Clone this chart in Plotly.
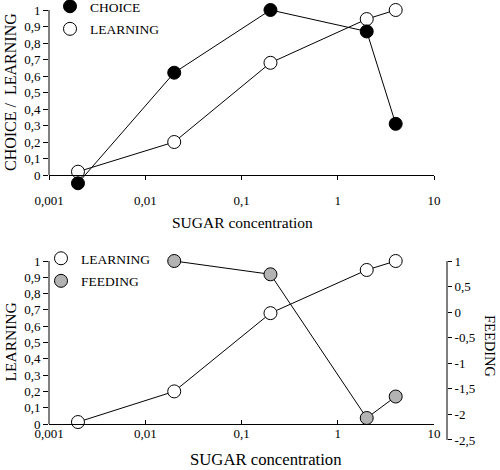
import plotly.graph_objects as go

# ---------------- data ----------------
CONC = [0.002, 0.02, 0.2, 2, 4]
CHOICE = [-0.05, 0.62, 1.0, 0.87, 0.31]
LEARNING_TOP = [0.02, 0.20, 0.68, 0.945, 1.0]
LEARNING_BOT = [0.012, 0.20, 0.68, 0.945, 1.0]
CONC_FEED = [0.02, 0.2, 2, 4]
FEEDING = [1.0, 0.74, -2.07, -1.65]

X_TICKVALS = [0.001, 0.01, 0.1, 1, 10]
X_TICKTEXT = ["0,001", "0,01", "0,1", "1", "10"]
Y_TICKVALS = [0, 0.1, 0.2, 0.3, 0.4, 0.5, 0.6, 0.7, 0.8, 0.9, 1]
Y_TICKTEXT = ["0", "0,1", "0,2", "0,3", "0,4", "0,5", "0,6", "0,7", "0,8", "0,9", "1"]
Y2_TICKVALS = [1, 0.5, 0, -0.5, -1, -1.5, -2, -2.5]
Y2_TICKTEXT = ["1", "0,5", "0", "-0,5", "-1", "-1,5", "-2", "-2,5"]

# ---------------- layout helpers (pixel -> paper) ----------------
W, H = 500, 470
FONT = "Liberation Serif, Tinos, Times New Roman, DejaVu Serif, serif"
GRAY = "#b3b3b3"


def fx(p):
    return p / W


def fy(p):
    return 1 - p / H


# top panel geometry
T_X0, T_X1 = 49, 434
T_ZERO, T_ONE = 175, 10
T_TOP, T_BOT = 4, 190
t_unit = T_ZERO - T_ONE
t_range = [(T_ZERO - T_BOT) / t_unit, (T_ZERO - T_TOP) / t_unit]

# bottom panel geometry
B_ZERO, B_ONE = 424, 261
B_TOP, B_BOT = 254, 443
b_unit = B_ZERO - B_ONE
b_range = [(B_ZERO - B_BOT) / b_unit, (B_ZERO - B_TOP) / b_unit]
R_ONE, R_UNIT = 261, 51.14
r_range = [1 - (B_BOT - R_ONE) / R_UNIT, 1 + (R_ONE - B_TOP) / R_UNIT]
R_AXIS = 447

fig = go.Figure()

line_style = dict(color="black", width=1)


def mk(fill):
    return dict(size=13, color=fill, line=dict(color="black", width=1))


# top panel
fig.add_trace(go.Scatter(x=CONC, y=LEARNING_TOP, mode="lines+markers", line=line_style,
                         marker=mk("white"), xaxis="x", yaxis="y", showlegend=False,
                         cliponaxis=False))
fig.add_trace(go.Scatter(x=CONC, y=CHOICE, mode="lines+markers", line=line_style,
                         marker=mk("black"), xaxis="x", yaxis="y", showlegend=False,
                         cliponaxis=False))
# legend entries top
fig.add_trace(go.Scatter(x=[None], y=[None], mode="markers", marker=mk("black"), name="CHOICE",
                         legend="legend", legendgroup="a", xaxis="x", yaxis="y"))
fig.add_trace(go.Scatter(x=[None], y=[None], mode="markers", marker=mk("white"), name="LEARNING",
                         legend="legend", legendgroup="b", xaxis="x", yaxis="y"))

# bottom panel
fig.add_trace(go.Scatter(x=CONC, y=LEARNING_BOT, mode="lines+markers", line=line_style,
                         marker=mk("white"), xaxis="x2", yaxis="y3", showlegend=False,
                         cliponaxis=False))
fig.add_trace(go.Scatter(x=CONC_FEED, y=FEEDING, mode="lines+markers", line=line_style,
                         marker=mk(GRAY), xaxis="x2", yaxis="y4", showlegend=False,
                         cliponaxis=False))
fig.add_trace(go.Scatter(x=[None], y=[None], mode="markers", marker=mk("white"), name="LEARNING",
                         legend="legend2", legendgroup="c", xaxis="x2", yaxis="y3"))
fig.add_trace(go.Scatter(x=[None], y=[None], mode="markers", marker=mk(GRAY), name="FEEDING",
                         legend="legend2", legendgroup="d", xaxis="x2", yaxis="y3"))

tickfont = dict(family=FONT, size=13, color="black")

common_x = dict(type="log", range=[-3, 1], domain=[fx(T_X0), fx(T_X1)], tickvals=X_TICKVALS,
                ticktext=X_TICKTEXT, showgrid=False, zeroline=False, showline=True,
                linecolor="black", linewidth=1, tickcolor="black", ticklen=4, tickwidth=1,
                tickfont=tickfont, anchor="free", automargin=False)

common_y = dict(tickvals=Y_TICKVALS, ticktext=Y_TICKTEXT, showgrid=False, zeroline=False,
                showline=False, ticks="outside", ticklen=5, tickwidth=1, tickcolor="black",
                tickfont=tickfont, automargin=False)

fig.update_layout(
    template="none",
    width=W, height=H,
    margin=dict(l=0, r=0, t=0, b=0, pad=0, autoexpand=False),
    paper_bgcolor="white", plot_bgcolor="rgba(0,0,0,0)",
    font=dict(family=FONT, size=13, color="black"),
    xaxis=dict(**common_x, position=fy(T_ZERO), ticks="outside", ticklabelstandoff=9),
    yaxis=dict(**common_y, range=t_range, domain=[fy(T_BOT), fy(T_TOP)], anchor="x"),
    xaxis2=dict(**common_x, position=fy(B_ZERO), ticks="inside", ticklabelstandoff=-3),
    yaxis3=dict(**common_y, range=b_range, domain=[fy(B_BOT), fy(B_TOP)], anchor="x2"),
    yaxis4=dict(range=r_range, overlaying="y3", side="right", anchor="free", position=fx(R_AXIS),
                tickvals=Y2_TICKVALS, ticktext=Y2_TICKTEXT, showgrid=False, zeroline=False,
                showline=False, ticks="outside", ticklen=4, tickwidth=1, tickcolor="black",
                tickfont=tickfont, automargin=False),
    legend=dict(x=fx(50), y=fy(-9), xanchor="left", yanchor="top", bgcolor="rgba(0,0,0,0)",
                font=dict(family=FONT, size=13.5, color="black"), traceorder="grouped",
                tracegroupgap=2, itemclick=False),
    legend2=dict(x=fx(41), y=fy(243), xanchor="left", yanchor="top", bgcolor="rgba(0,0,0,0)",
                 font=dict(family=FONT, size=13.5, color="black"), traceorder="grouped",
                 tracegroupgap=2, itemclick=False),
    showlegend=True,
)

# axis lines (left & right) spanning only the labelled range
fig.add_shape(type="line", xref="paper", yref="y", x0=fx(T_X0), x1=fx(T_X0), y0=0, y1=1,
              line=dict(color="black", width=1))
fig.add_shape(type="line", xref="paper", yref="y3", x0=fx(T_X0), x1=fx(T_X0), y0=0, y1=1,
              line=dict(color="black", width=1))
fig.add_shape(type="line", xref="paper", yref="y4", x0=fx(R_AXIS), x1=fx(R_AXIS), y0=-2.5, y1=1,
              line=dict(color="black", width=1))

# titles
ann = [
    dict(text="SUGAR concentration", x=fx(242), y=fy(222), size=15.5, angle=0),
    dict(text="SUGAR concentration", x=fx(265.5), y=fy(459), size=16.7, angle=0),
    dict(text="CHOICE /  LEARNING", x=fx(10), y=fy(92), size=16, angle=-90),
    dict(text="LEARNING", x=fx(10), y=fy(342.5), size=15.5, angle=-90),
    dict(text="FEEDING", x=fx(490), y=fy(346), size=14.5, angle=90),
]
for a in ann:
    fig.add_annotation(text=a["text"], x=a["x"], y=a["y"], xref="paper", yref="paper",
                       xanchor="center", yanchor="middle", showarrow=False,
                       textangle=a["angle"], font=dict(family=FONT, size=a["size"], color="black"))

fig.write_html("out.html", config={"displayModeBar": False},
               post_script="document.body.style.margin='0';document.body.style.overflow='hidden';")
